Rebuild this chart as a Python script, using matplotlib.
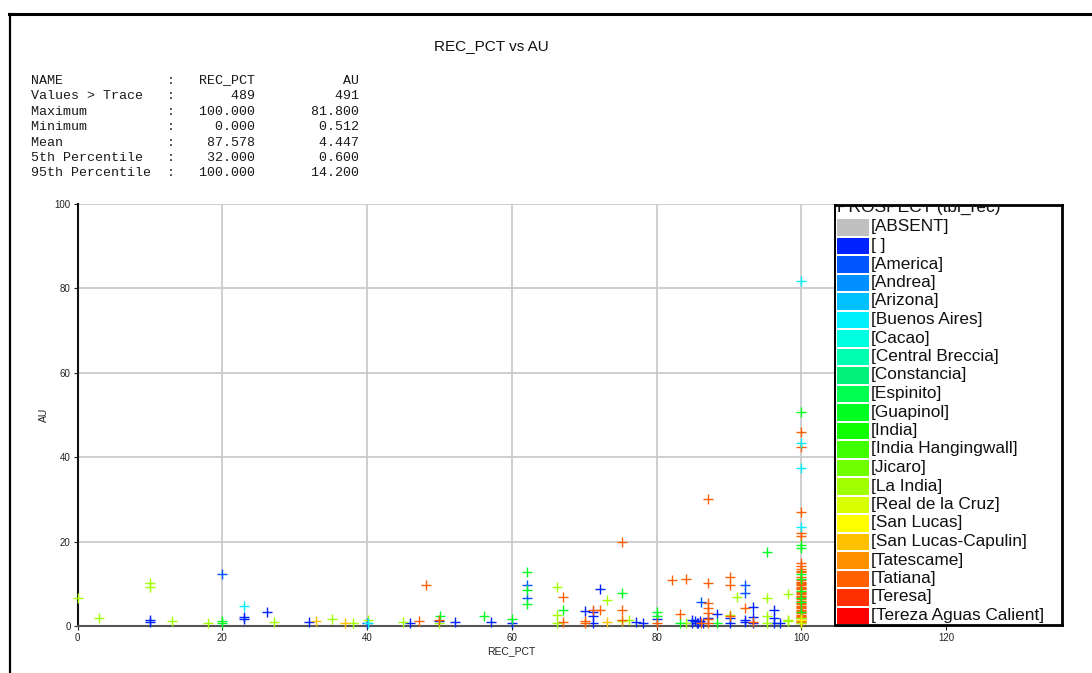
import matplotlib
matplotlib.use("Agg")
import matplotlib.pyplot as plt
from matplotlib.patches import Rectangle
from matplotlib.lines import Line2D

plt.rcParams['font.family'] = ['Liberation Sans', 'DejaVu Sans']

W, H = 1092, 673

# ---- summary statistics ----
stat_names = ["NAME", "Values > Trace", "Maximum", "Minimum", "Mean",
              "5th Percentile", "95th Percentile"]
stat_rec = ["REC_PCT", "489", "100.000", "0.000", "87.578", "32.000", "100.000"]
stat_au = ["AU", "491", "81.800", "0.512", "4.447", "0.600", "14.200"]

# ---- legend categories (PROSPECT) ----
prospects = ["[ABSENT]", "[ ]", "[America]", "[Andrea]", "[Arizona]",
             "[Buenos Aires]", "[Cacao]", "[Central Breccia]", "[Constancia]",
             "[Espinito]", "[Guapinol]", "[India]", "[India Hangingwall]",
             "[Jicaro]", "[La India]", "[Real de la Cruz]", "[San Lucas]",
             "[San Lucas-Capulin]", "[Tatescame]", "[Tatiana]", "[Teresa]",
             "[Tereza Aguas Calient]"]
prospect_colors = ["#c0c0c0", "#0022ff", "#0055ff", "#0090ff", "#00c0ff",
                   "#00f0ff", "#00ffe0", "#00ffb0", "#00f078", "#00ff50",
                   "#00ff20", "#10ff00", "#40ff00", "#70ff00", "#a0ff00",
                   "#d8ff00", "#ffff00", "#ffc000", "#ff9000", "#ff6000",
                   "#ff3000", "#ff0000"]

# ---- samples by prospect: REC_PCT (x) and AU (y) ----
rec_blank = [10, 10, 23, 23, 26.2, 32, 40, 46, 50, 52.1, 57.2, 60, 70.1, 71.2,
             71.2, 71.2, 72.2, 77.1, 78.2, 80, 85.3, 85.6, 86.0, 86.4, 85.8,
             87.1, 88.3, 90.1, 90.1, 92.2, 92.2, 93.3, 93.3, 93.3, 96.2, 96.2,
             96.2, 97.1, 84.9, 84.9]
au_blank = [1.0, 1.5, 2.2, 1.7, 3.2, 1.0, 0.8, 0.6, 1.2, 1.0, 1.0, 0.6, 3.6,
            3.4, 2.3, 0.8, 8.7, 1.0, 0.6, 1.6, 1.3, 0.8, 1.1, 0.7, 0.6,
            2.0, 2.8, 0.7, 1.8, 1.4, 0.9, 4.6, 2.2, 0.6, 3.8, 1.8, 0.8, 0.6,
            1.4, 0.8]

rec_america = [20, 62.1, 62.1, 86.1, 92.2, 92.2]
au_america = [12.4, 9.7, 6.6, 5.8, 9.7, 7.9]

rec_buenos = [23, 40.1, 100, 100, 100, 100]
au_buenos = [4.8, 0.6, 81.8, 43.3, 37.4, 23.4]

rec_guapinol = [20, 20, 50.1, 56.1, 60, 62.1, 62.1, 62.1, 67.1, 75.2, 80, 80,
                83.2, 88.3, 95.2]
au_guapinol = [1.3, 0.6, 2.4, 2.4, 1.7, 12.9, 8.5, 5.2, 3.8, 7.9, 3.4, 2.4,
               0.6, 0.6, 17.5]

rec_laindia = [0, 3, 10, 10, 13.1, 18, 27.1, 35.1, 38.1, 40.1, 45, 50, 66.2,
               66.2, 66.2, 73.1, 75.2, 76.2, 84.1, 90.1, 91.1, 95.2, 95.2,
               95.2, 98.2, 98.2, 98.2]
au_laindia = [6.6, 1.9, 10.2, 9.2, 1.3, 0.8, 1.0, 1.7, 0.6, 1.5, 0.9, 0.8, 9.3,
              2.6, 0.8, 6.2, 1.1, 1.4, 0.8, 2.6, 6.9, 6.6, 2.4, 0.6, 7.7, 1.5,
              1.1]

rec_capulin = [33, 37, 73.1]
au_capulin = [1.3, 0.6, 0.9]

rec_tatiana = [47.2, 48.1, 50, 67.1, 67.1, 70.1, 70.1, 71.2, 72.2, 75.2, 75.2,
               75.2, 80, 82.2, 84.1, 83.2, 86.1, 87.1, 87.1, 87.1, 87.1, 87.1,
               87.1, 87.1, 90.1, 90.1, 90.1, 92.2, 93.3]
au_tatiana = [1.3, 9.7, 1.4, 6.9, 1.0, 1.3, 0.7, 3.8, 3.8, 20.0, 3.9, 1.5, 0.8,
              10.9, 11.1, 2.8, 0.7, 30.2, 10.1, 5.4, 4.2, 3.0, 1.6, 0.6, 11.7,
              9.6, 2.3, 4.2, 1.0]

# full-recovery samples (REC_PCT = 100), stacked along one column
au_guapinol_full = [50.6, 19.2, 18.4, 12.3, 11.2, 8.4, 6.6, 5.6, 3.2]
au_tatiana_full = [45.9, 42.5, 26.9, 22.1, 21.3, 15.0, 14.2, 13.6, 13.1, 12.8,
                   11.6, 10.8, 10.5, 10.2, 9.9, 9.6, 9.3, 9.0, 8.7,
                   8.1, 7.8, 7.5, 7.2, 6.9, 6.3, 6.0, 5.4, 5.1,
                   4.8, 4.5, 4.2, 3.9, 3.6, 3.3, 3.0, 2.7, 2.4, 2.1, 1.8, 1.5,
                   1.2, 0.9, 0.6]
au_laindia_full = [1.8, 0.8]
au_sanlucas_full = [1.4]

series = [
    ("[ ]", rec_blank, au_blank),
    ("[America]", rec_america, au_america),
    ("[La India]", rec_laindia, au_laindia),
    ("[San Lucas-Capulin]", rec_capulin, au_capulin),
    ("[Guapinol]", rec_guapinol, au_guapinol),
    ("[Tatiana]", rec_tatiana, au_tatiana),
    ("[Tatiana]", [100] * len(au_tatiana_full), au_tatiana_full),
    ("[Guapinol]", [100] * len(au_guapinol_full), au_guapinol_full),
    ("[La India]", [100] * len(au_laindia_full), au_laindia_full),
    ("[Buenos Aires]", rec_buenos, au_buenos),
    ("[San Lucas]", [100] * len(au_sanlucas_full), au_sanlucas_full),
]
color_of = dict(zip(prospects, prospect_colors))

fig = plt.figure(figsize=(W / 100, H / 100), dpi=100)
fig.patch.set_facecolor("white")


def fx(px):
    return px / W


def fy(py):
    return 1 - py / H


# outer frame (top and left edges visible)
fig.add_artist(Line2D([fx(9), 1.0], [fy(14), fy(14)], color="black", lw=2.2,
                      transform=fig.transFigure))
fig.add_artist(Line2D([fx(10), fx(10)], [fy(14), 0.0], color="black", lw=1.6,
                      transform=fig.transFigure))

fig.text(fx(491), fy(46), "REC_PCT vs AU", ha="center", va="center",
         fontsize=11, color="#111111")

# statistics block
row_y = [80, 96, 111.7, 127.3, 142.7, 158.3, 173.3]
for name, a, b, yy in zip(stat_names, stat_rec, stat_au, row_y):
    line = f"{name:<17}:{a:>10}{b:>13}"
    fig.text(fx(31), fy(yy), line, ha="left", va="center",
             family="Liberation Mono", fontsize=9.6, color="#1a1a1a")

# main scatter axes
ax = fig.add_axes([fx(77.5), fy(626), fx(946) - fx(77.5), (626 - 204) / H])
ax.set_xlim(0, 120)
ax.set_ylim(0, 100)
ax.set_xticks([0, 20, 40, 60, 80, 100, 120])
ax.set_yticks([0, 20, 40, 60, 80, 100])
ax.grid(True, color="#cacaca", lw=1.3)
ax.set_axisbelow(True)
for s in ("top", "right"):
    ax.spines[s].set_visible(False)
ax.spines["left"].set_color("#111111")
ax.spines["left"].set_linewidth(1.5)
ax.spines["bottom"].set_color("#555555")
ax.spines["bottom"].set_linewidth(1.5)
ax.tick_params(labelsize=7, colors="#222222", length=3, width=0.8, pad=2)

for cat, xs, ys in series:
    ax.plot(xs, ys, linestyle="none", marker="+", ms=6.5, mew=1.0,
            color=color_of[cat], clip_on=False, zorder=3)

fig.text(fx(511), fy(651), "REC_PCT", ha="center", va="center", fontsize=7.5,
         color="#222222")
fig.text(fx(44), fy(415), "AU", ha="center", va="center", fontsize=7.5,
         rotation=90, color="#222222")

# legend panel
lg = fig.add_axes([fx(835), fy(625), fx(1062) - fx(835), (625 - 205) / H])
lg.set_xlim(835, 1062)
lg.set_ylim(625, 205)
lg.set_xticks([])
lg.set_yticks([])
lg.set_facecolor("white")
for s in lg.spines.values():
    s.set_color("black")
    s.set_linewidth(2.0)
lg.spines["left"].set_linewidth(1.4)
lg.text(837, 207, "PROSPECT (tbl_rec)", ha="left", va="center",
        fontsize=12.5, color="#111111", clip_on=True)
for i, (name, col) in enumerate(zip(prospects, prospect_colors)):
    yc = 227 + 18.5 * i
    lg.add_patch(Rectangle((837.5, yc - 8), 31.5, 16.5, facecolor=col,
                           edgecolor="none"))
    lg.text(871, yc, name, ha="left", va="center", fontsize=12.4,
            color="#111111", clip_on=True)

fig.savefig("out.png", dpi=100, facecolor="white")
